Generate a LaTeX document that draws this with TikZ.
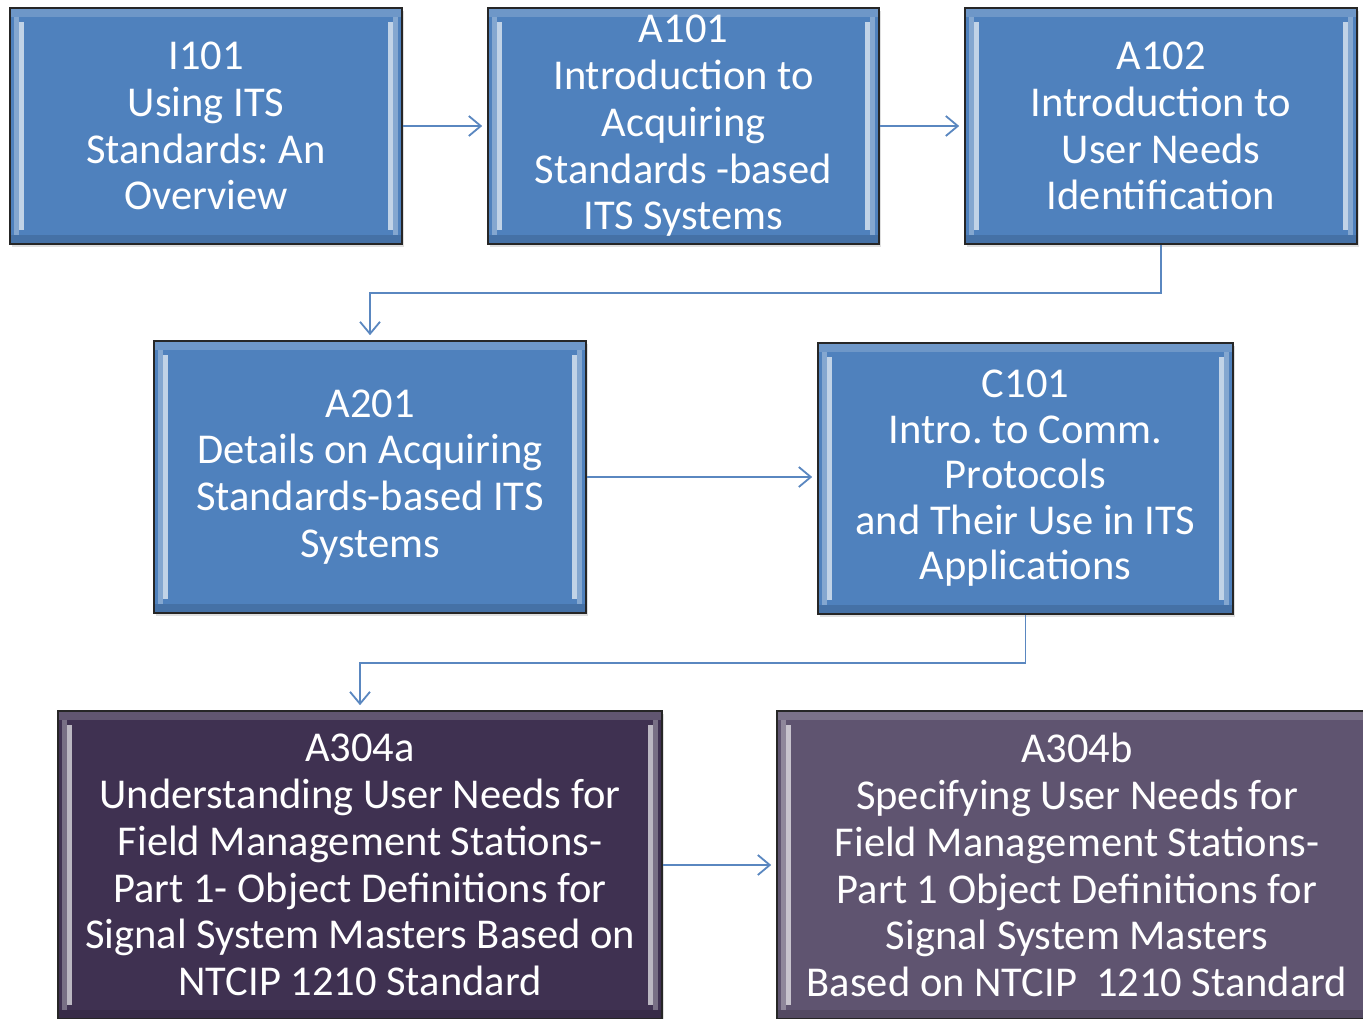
\documentclass[tikz,border=0pt]{standalone}
\usepackage{fontspec}
\setmainfont{Carlito}
\frenchspacing
\usetikzlibrary{arrows.meta,shadows,calc}
\definecolor{boxblue}{HTML}{4F81BD}
\definecolor{boxpurple}{HTML}{3F3151}
\definecolor{boxmauve}{HTML}{5F5470}
\definecolor{linkblue}{HTML}{5A87C0}
\tikzset{
  card/.style={draw=black!85, line width=1.6pt, text=white, align=center, inner sep=0pt,
    font=\fontsize{42.5}{46.8}\selectfont,
    drop shadow={opacity=0.25, shadow xshift=2pt, shadow yshift=-3pt},
    path picture={
      \fill[white, opacity=0.18] (path picture bounding box.north west) rectangle ([yshift=-9pt]path picture bounding box.north east);
      \fill[black, opacity=0.12] ([yshift=9pt]path picture bounding box.south west) rectangle (path picture bounding box.south east);
      \fill[white, opacity=0.3] ([xshift=4pt,yshift=-9pt]path picture bounding box.north west) rectangle ([xshift=9pt,yshift=9pt]path picture bounding box.south west);
      \fill[white, opacity=0.3] ([xshift=-4pt,yshift=-9pt]path picture bounding box.north east) rectangle ([xshift=-9pt,yshift=9pt]path picture bounding box.south east);
      \fill[white, opacity=0.65] ([xshift=9pt,yshift=-14pt]path picture bounding box.north west) rectangle ([xshift=14pt,yshift=14pt]path picture bounding box.south west);
      \fill[white, opacity=0.65] ([xshift=-9pt,yshift=-14pt]path picture bounding box.north east) rectangle ([xshift=-14pt,yshift=14pt]path picture bounding box.south east);
    }},
  bluecard/.style={card, fill=boxblue},
  link/.style={draw=linkblue, line width=1.8pt, shorten >=5pt,
    -{Straight Barb[length=12pt, width=20pt, line width=1.8pt]}},
}
\begin{document}
\begin{tikzpicture}[x=1pt, y=-1pt]
\useasboundingbox (0,0) rectangle (1363,1019);
\clip (0,0) rectangle (1363,1019);
\node[bluecard, minimum width=392pt, minimum height=236pt] (I101) at (206,126)
  {I101\\Using ITS\\Standards: An\\Overview};
\node[bluecard, minimum width=391pt, minimum height=236pt] (A101) at (683.5,126)
  {A101\\Introduction to\\Acquiring\\Standards -based\\ITS Systems};
\node[bluecard, minimum width=392pt, minimum height=236pt] (A102) at (1161,126)
  {A102\\Introduction to\\User Needs\\Identification};
\node[bluecard, minimum width=432pt, minimum height=272pt] (A201) at (370,477)
  {A201\\Details on Acquiring\\Standards-based ITS\\Systems};
\node[bluecard, minimum width=415pt, minimum height=271pt, font=\fontsize{42.5}{45.5}\selectfont] (C101) at (1025.5,478.5)
  {C101\\Intro. to Comm.\\Protocols\\and Their Use in ITS\\Applications};
\node[card, fill=boxpurple, minimum width=604pt, minimum height=308pt] (A304a) at (360,865)
  {A304a\\Understanding User Needs for\\Field Management Stations-\\Part 1- Object Definitions for\\Signal System Masters Based on\\NTCIP 1210 Standard};
\node[card, fill=boxmauve, minimum width=600pt, minimum height=308pt] (A304b) at (1077,865)
  {A304b\\Specifying User Needs for\\Field Management Stations-\\Part 1 Object Definitions for\\Signal System Masters\\Based on NTCIP\ \ 1210 Standard};
\draw[link] (I101.east) -- (A101.west);
\draw[link] (A101.east) -- (A102.west);
\draw[link] (A102.south) -- ++(0,48) -| (A201.north);
\draw[link] (A201.east) -- (A201.east -| C101.west);
\draw[link] (C101.south) -- ++(0,48) -| (A304a.north);
\draw[link] (A304a.east) -- (A304b.west);
\end{tikzpicture}
\end{document}
